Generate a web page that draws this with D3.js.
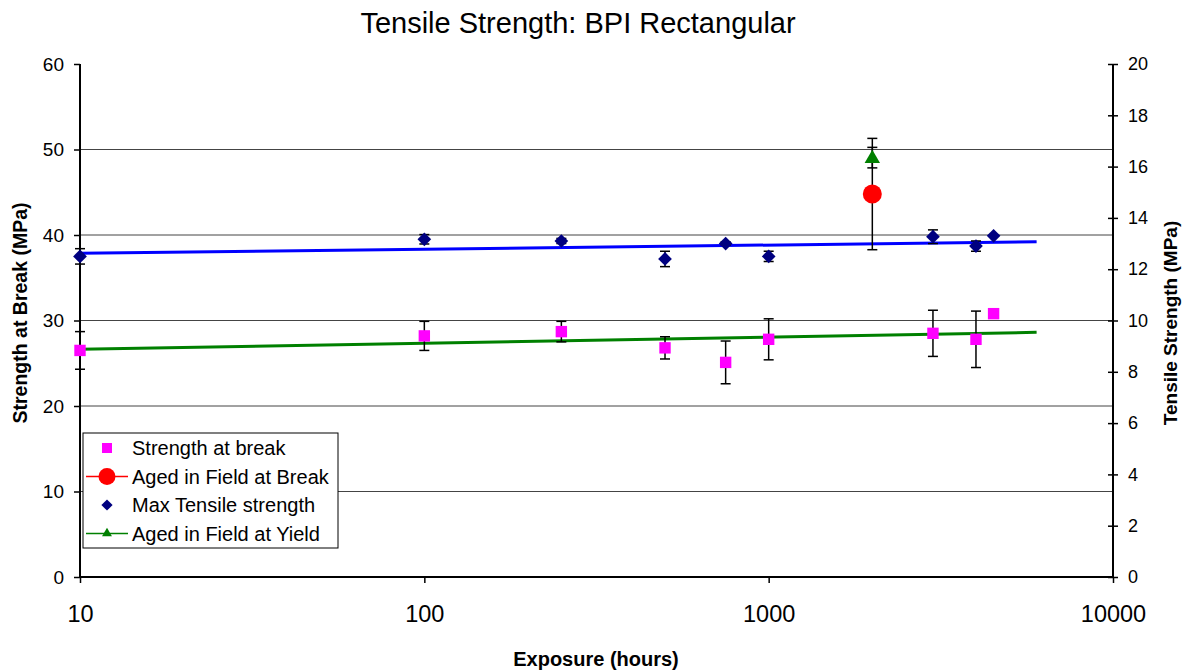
<!DOCTYPE html>
<html><head><meta charset="utf-8">
<script src="https://cdn.jsdelivr.net/npm/d3@7"></script>
<style>body{margin:0;background:#fff}svg{display:block;font-family:"Liberation Sans",Arial,sans-serif}</style>
</head><body><svg id="c" width="1189" height="671"></svg>
<script>
// Data
const hours = [10, 100, 250, 500, 750, 1000, 3000, 4000, 4500];
const breakStrength = [26.5, 28.2, 28.7, 26.8, 25.1, 27.8, 28.5, 27.8, 30.8];
const breakErr = [2.2, 1.7, 1.2, 1.3, 2.5, 2.4, 2.7, 3.3, 0];
const maxTensile = [37.5, 39.5, 39.3, 37.2, 39.0, 37.5, 39.8, 38.7, 39.9];
const maxTensileErr = [0.9, 0.55, 0.3, 0.9, 0.2, 0.6, 0.8, 0.6, 0];
const fieldHours = [2000];
const agedBreak = [14.93];      // right axis
const agedBreakErr = [2.17];
const agedYield = [16.35];      // right axis
const agedYieldErr = [0.4];
const trendHours = [10, 6000];
const maxTrend = [37.86, 39.2];
const breakTrend = [26.63, 28.62];
const xTicks = [10, 100, 1000, 10000];
const yLeftTicks = [0, 10, 20, 30, 40, 50, 60];
const yRightTicks = [0, 2, 4, 6, 8, 10, 12, 14, 16, 18, 20];
const legendItems = ["Strength at break", "Aged in Field at Break", "Max Tensile strength", "Aged in Field at Yield"];

const svg = d3.select("#c");
const L = 80, R = 1113, T = 64, B = 577;
const x = d3.scaleLog().domain([10, 10000]).range([L, R]);
const yL = d3.scaleLinear().domain([0, 60]).range([B, T]);
const yR = d3.scaleLinear().domain([0, 20]).range([B, T]);

// gridlines
svg.append("g").selectAll("line").data(yLeftTicks.filter(v => v > 0 && v < 60)).join("line")
  .attr("x1", L).attr("x2", R).attr("y1", d => yL(d)).attr("y2", d => yL(d))
  .attr("stroke", "#444").attr("stroke-width", 1);

// axes
const gl = svg.append("g").attr("transform", `translate(${L},0)`)
  .call(d3.axisLeft(yL).tickValues(yLeftTicks).tickSize(6).tickPadding(10));
gl.selectAll("text").attr("font-size", 19).attr("fill", "#000");
const gr = svg.append("g").attr("transform", `translate(${R},0)`)
  .call(d3.axisRight(yR).tickValues(yRightTicks).tickSize(5).tickPadding(10));
gr.selectAll("text").attr("font-size", 18).attr("fill", "#000");
gr.selectAll(".tick line").attr("x1", -5);
const gb = svg.append("g").attr("transform", `translate(0,${B})`)
  .call(d3.axisBottom(x).tickValues(xTicks).tickFormat(d3.format("d")).tickSize(6).tickPadding(22));
gb.selectAll("text").attr("font-size", 23.5).attr("fill", "#000");
[gl, gr, gb].forEach(g => { g.selectAll("path,line").attr("stroke", "#000").attr("stroke-width", 1.5); g.select(".domain").attr("stroke-width", 2); });
gl.select(".domain").attr("d", `M0,${T}V${B}`);
gr.select(".domain").attr("d", `M0,${T}V${B}`);
gb.select(".domain").attr("d", `M${L},0H${R}`);

// trend lines
const line = (ys, scale) => d3.line().x((d, i) => x(trendHours[i])).y(d => scale(d))(ys);
svg.append("path").attr("d", line(maxTrend, yL)).attr("stroke", "#0000ff").attr("stroke-width", 3).attr("fill", "none");
svg.append("path").attr("d", line(breakTrend, yL)).attr("stroke", "#008000").attr("stroke-width", 3).attr("fill", "none");

// error bars
function errBars(xs, ys, es, scale) {
  const g = svg.append("g").attr("stroke", "#000").attr("stroke-width", 1.5);
  xs.forEach((h, i) => {
    if (!es[i]) return;
    const cx = x(h), y1 = scale(ys[i] + es[i]), y2 = scale(ys[i] - es[i]);
    g.append("line").attr("x1", cx).attr("x2", cx).attr("y1", y1).attr("y2", y2);
    g.append("line").attr("x1", cx - 5).attr("x2", cx + 5).attr("y1", y1).attr("y2", y1);
    g.append("line").attr("x1", cx - 5).attr("x2", cx + 5).attr("y1", y2).attr("y2", y2);
  });
}
errBars(hours, breakStrength, breakErr, yL);
errBars(hours, maxTensile, maxTensileErr, yL);
errBars(fieldHours, agedBreak, agedBreakErr, yR);
errBars(fieldHours, agedYield, agedYieldErr, yR);

// markers
const sym = (type, size) => d3.symbol().type(type).size(size)();
svg.append("g").selectAll("path").data(hours).join("path")
  .attr("d", sym(d3.symbolSquare, 130)).attr("fill", "#ff00ff")
  .attr("transform", (d, i) => `translate(${x(d)},${yL(breakStrength[i])})`);
svg.append("g").selectAll("path").data(hours).join("path")
  .attr("d", sym(d3.symbolDiamond2, 120)).attr("fill", "#000080")
  .attr("transform", (d, i) => `translate(${x(d)},${yL(maxTensile[i])})`);
svg.append("g").selectAll("circle").data(fieldHours).join("circle")
  .attr("r", 9.5).attr("fill", "#ff0000")
  .attr("cx", d => x(d)).attr("cy", (d, i) => yR(agedBreak[i]));
svg.append("g").selectAll("path").data(fieldHours).join("path")
  .attr("d", sym(d3.symbolTriangle2, 170)).attr("fill", "#008000")
  .attr("transform", (d, i) => `translate(${x(d)},${yR(agedYield[i]) + 1})`);

// legend
const lg = svg.append("g");
lg.append("rect").attr("x", 83).attr("y", 433).attr("width", 255).attr("height", 115)
  .attr("fill", "#fff").attr("stroke", "#000").attr("stroke-width", 1);
const ly = i => 448 + i * 28.5;
const lsx = 107;
lg.append("path").attr("d", sym(d3.symbolSquare, 100)).attr("fill", "#ff00ff").attr("transform", `translate(${lsx},${ly(0)})`);
lg.append("line").attr("x1", 86).attr("x2", 128).attr("y1", ly(1)).attr("y2", ly(1)).attr("stroke", "#ff0000").attr("stroke-width", 1.5);
lg.append("circle").attr("cx", lsx).attr("cy", ly(1)).attr("r", 8.5).attr("fill", "#ff0000");
lg.append("path").attr("d", sym(d3.symbolDiamond2, 80)).attr("fill", "#000080").attr("transform", `translate(${lsx},${ly(2)})`);
lg.append("line").attr("x1", 86).attr("x2", 128).attr("y1", ly(3)).attr("y2", ly(3)).attr("stroke", "#008000").attr("stroke-width", 1.5);
lg.append("path").attr("d", sym(d3.symbolTriangle2, 70)).attr("fill", "#008000").attr("transform", `translate(${lsx},${ly(3)})`);
lg.selectAll("text").data(legendItems).join("text")
  .attr("x", 132).attr("y", (d, i) => ly(i)).attr("dy", "0.35em")
  .attr("font-size", 20).text(d => d);

// titles
svg.append("text").attr("x", 578).attr("y", 33).attr("text-anchor", "middle").attr("font-size", 29).text("Tensile Strength: BPI Rectangular");
svg.append("text").attr("x", 596).attr("y", 666).attr("text-anchor", "middle").attr("font-size", 20).attr("font-weight", "bold").text("Exposure (hours)");
svg.append("text").attr("transform", "translate(27,313) rotate(-90)").attr("text-anchor", "middle").attr("font-size", 19.5).attr("font-weight", "bold").text("Strength at Break (MPa)");
svg.append("text").attr("transform", "translate(1177,323) rotate(-90)").attr("text-anchor", "middle").attr("font-size", 19).attr("font-weight", "bold").text("Tensile Strength (MPa)");
</script></body></html>
